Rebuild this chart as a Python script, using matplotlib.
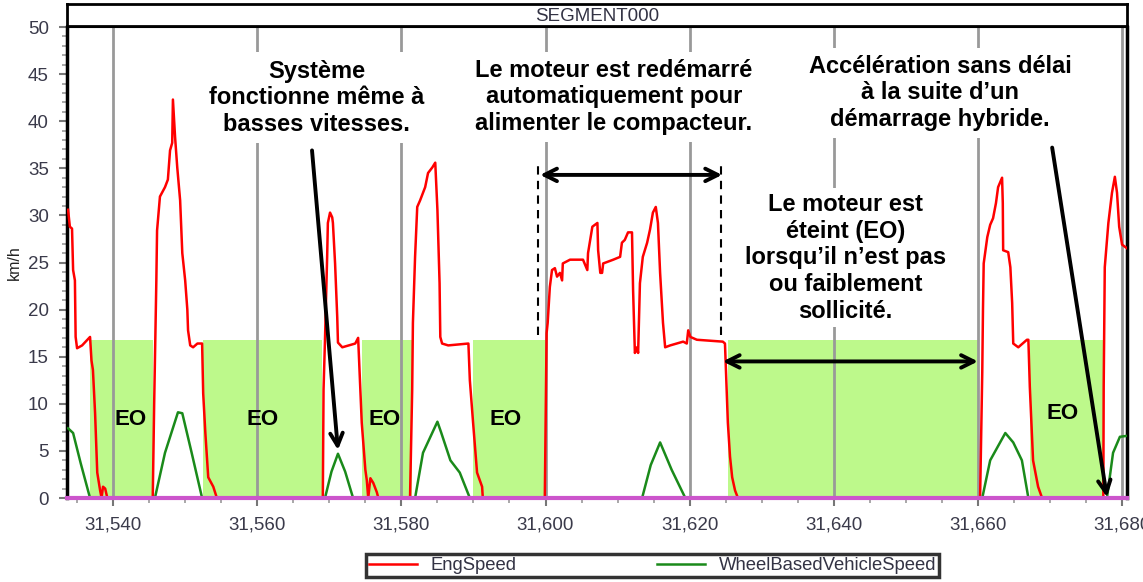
import matplotlib
matplotlib.use("Agg")
import matplotlib.pyplot as plt
from matplotlib.ticker import MultipleLocator, FuncFormatter
from matplotlib.lines import Line2D

plt.rcParams['font.family'] = ['Liberation Sans', 'DejaVu Sans']

# EngSpeed trace (time, km/h)
eng_time = [31533.75, 31534.0, 31534.3, 31534.45, 31534.7, 31534.8, 31535.0, 31535.7, 31536.8, 31537.0,
            31537.2, 31537.5, 31537.8, 31538.2, 31538.4, 31538.6, 31538.9, 31539.2,
            31545.5, 31545.7, 31546.0, 31546.1, 31546.5, 31547.2, 31547.6, 31547.9, 31548.2, 31548.3,
            31548.6, 31548.9, 31549.3, 31549.6, 31550.0, 31550.3, 31550.4, 31550.7, 31551.1, 31551.7,
            31552.35, 31552.5, 31552.8, 31553.2, 31553.9, 31554.4,
            31569.1, 31569.2, 31569.4, 31569.7, 31569.8, 31570.1, 31570.4, 31570.5, 31570.8, 31571.1,
            31571.2, 31571.8, 31573.6, 31574.0, 31574.3, 31574.5, 31575.0, 31575.2, 31575.4, 31575.7,
            31576.1, 31576.6, 31576.8,
            31581.2, 31581.5, 31581.6, 31581.9, 31582.2, 31582.6, 31583.0, 31583.3, 31583.7, 31584.3,
            31584.7, 31585.0, 31585.3, 31585.4, 31585.65, 31586.5, 31589.3, 31589.5, 31589.95, 31590.5,
            31591.2, 31591.3,
            31599.9, 31600.15, 31600.3, 31600.6, 31600.9, 31601.3, 31601.6, 31602.0, 31602.3, 31602.4,
            31603.4, 31605.2, 31605.8, 31605.9, 31606.5, 31607.2, 31607.3, 31607.6, 31607.85, 31608.0,
            31609.4, 31610.35, 31610.6, 31611.0, 31611.45, 31612.0, 31612.15, 31612.4, 31612.7, 31612.85,
            31613.1, 31613.5, 31614.1, 31614.5, 31614.9, 31615.3, 31615.6, 31615.9, 31616.3, 31616.6,
            31617.3, 31619.1, 31619.6, 31619.8, 31620.1, 31621.0, 31624.6, 31624.9, 31625.3, 31625.6,
            31625.9, 31626.3, 31626.7,
            31660.3, 31660.6, 31660.7, 31660.8, 31661.3, 31661.7, 31662.1, 31662.5, 31662.8, 31663.35,
            31663.45, 31663.5, 31664.2, 31664.5, 31664.75, 31664.9, 31665.6, 31666.8, 31667.0, 31667.2,
            31667.65, 31668.35, 31668.9,
            31677.4, 31677.45, 31677.6, 31678.1, 31678.6, 31679.0, 31679.3, 31679.6, 31680.0, 31680.7]
eng_speed = [30.6, 28.8, 28.6, 24.2, 23.1, 17.1, 15.9, 16.2, 17.1, 14.6,
             13.6, 9.0, 2.7, 0.8, 0.0, 1.2, 1.0, 0.0,
             0.0, 10.1, 23.1, 28.4, 32.0, 33.0, 33.8, 36.9, 37.7, 42.3,
             38.3, 35.1, 31.6, 26.0, 23.1, 20.0, 17.8, 16.2, 16.0, 16.4,
             16.4, 11.1, 6.9, 2.2, 1.2, 0.0,
             0.0, 11.5, 16.8, 25.6, 29.2, 30.3, 29.8, 29.2, 24.9, 19.2,
             16.5, 16.0, 16.4, 17.0, 11.5, 8.0, 3.0, 1.9, 0.0, 2.1,
             1.6, 0.6, 0.0,
             0.0, 11.5, 18.6, 25.6, 30.9, 31.6, 32.4, 33.0, 34.5, 35.1,
             35.6, 30.6, 22.8, 17.1, 16.4, 16.2, 16.4, 12.5, 8.0, 2.7,
             1.2, 0.0,
             0.0, 17.5, 18.6, 22.4, 24.2, 24.4, 23.5, 23.9, 23.1, 24.9,
             25.3, 25.3, 24.2, 26.0, 28.8, 29.2, 26.3, 23.9, 23.9, 24.9,
             25.3, 25.6, 27.1, 27.4, 28.2, 28.2, 22.1, 15.4, 16.0, 15.4,
             22.8, 25.6, 27.1, 28.5, 30.3, 30.9, 29.2, 23.9, 18.6, 16.0,
             16.2, 16.6, 16.4, 17.8, 17.1, 16.8, 16.6, 16.4, 8.0, 4.4,
             2.2, 0.8, 0.0,
             0.0, 13.3, 20.0, 24.9, 27.7, 29.0, 29.7, 31.3, 33.0, 34.0,
             31.3, 26.3, 26.1, 24.5, 20.7, 16.4, 16.0, 16.8, 16.8, 11.8,
             4.0, 1.2, 0.0,
             0.0, 11.8, 24.5, 29.2, 32.4, 34.1, 32.4, 28.8, 26.9, 26.5]

# WheelBasedVehicleSpeed trace
veh_time = [31533.75, 31534.45, 31535.5, 31536.8, 31545.8, 31547.2, 31549.0, 31549.6, 31550.9, 31552.35,
            31569.4, 31570.3, 31571.2, 31572.2, 31573.3, 31581.9, 31583.0, 31585.0, 31585.5, 31586.8,
            31588.1, 31589.5, 31613.4, 31614.6, 31615.9, 31617.5, 31619.4, 31660.6, 31661.7, 31663.8,
            31664.9, 31666.1, 31667.0, 31677.9, 31678.75, 31679.7, 31680.7]
veh_speed = [7.4, 6.9, 3.7, 0.0, 0.0, 4.8, 9.1, 9.0, 4.8, 0.0,
             0.0, 2.8, 4.7, 2.8, 0.0, 0.0, 4.8, 8.1, 7.0, 4.0,
             2.7, 0.0, 0.0, 3.5, 5.9, 3.0, 0.0, 0.0, 4.0, 6.9,
             5.9, 4.0, 0.0, 0.0, 4.8, 6.5, 6.6]

# engine-off windows
eo_start = [31536.8, 31552.5, 31574.6, 31590.0, 31625.3, 31667.2]
eo_end = [31545.5, 31569.0, 31581.5, 31600.0, 31660.0, 31677.4]
eo_level = 16.8
eo_label_x = [31542.4, 31560.8, 31577.7, 31594.4, 31671.8]
eo_label_y = [8.3, 8.3, 8.3, 8.3, 9.0]

x_min, x_max = 31533.6, 31680.7

fig = plt.figure(figsize=(11.43, 5.82), dpi=100)
ax = fig.add_axes([0.0586, 0.1443, 0.9275, 0.8093])

for s, e in zip(eo_start, eo_end):
    ax.fill_between([s, e], 0, eo_level, color='#bdf98b', lw=0, zorder=1)

for gx in range(31540, 31700, 20):
    ax.axvline(gx, color='#999999', lw=2, zorder=2)

ax.plot(eng_time, eng_speed, color='#ff0000', lw=1.8, zorder=3)
ax.plot(veh_time, veh_speed, color='#1a8a1a', lw=1.8, zorder=3)
ax.plot([x_min, x_max], [0, 0], color='#cc55cc', lw=3, zorder=4, clip_on=False)

for lx, ly in zip(eo_label_x, eo_label_y):
    ax.text(lx, ly, 'EO', fontsize=16, fontweight='bold', ha='center', va='center', zorder=5)

box = dict(boxstyle='square,pad=0.3', fc='white', ec='none')
txt_kw = dict(fontsize=17, fontweight='bold', ha='center', va='center', linespacing=1.2,
              bbox=box, zorder=5)
ax.text(31568.2, 42.5, "Système\nfonctionne même à\nbasses vitesses.", **txt_kw)
ax.text(31609.5, 42.6, "Le moteur est redémarré\nautomatiquement pour\nalimenter le compacteur.", **txt_kw)
ax.text(31654.75, 43.0, "Accélération sans délai\nà la suite d’un\ndémarrage hybride.", **txt_kw)
ax.text(31641.6, 25.5, "Le moteur est\néteint (EO)\nlorsqu’il n’est pas\nou faiblement\nsollicité.",
        fontsize=17, fontweight='bold', ha='center', va='center', linespacing=1.2,
        bbox=dict(boxstyle='square,pad=0.2', fc='white', ec='none'), zorder=5)

arrow_kw = dict(arrowstyle='->,head_length=0.9,head_width=0.45', color='black', lw=2.8,
                shrinkA=0, shrinkB=0)
ax.annotate('', xy=(31571.2, 5.1), xytext=(31567.6, 36.9), arrowprops=arrow_kw, zorder=6)
ax.annotate('', xy=(31677.9, 0.1), xytext=(31670.3, 37.2), arrowprops=arrow_kw, zorder=6)
dbl_kw = dict(arrowstyle='<->,head_length=0.9,head_width=0.45', color='black', lw=2.8,
              shrinkA=0, shrinkB=0)
ax.annotate('', xy=(31599.25, 34.3), xytext=(31624.5, 34.3), arrowprops=dbl_kw, zorder=6)
ax.annotate('', xy=(31624.6, 14.5), xytext=(31660.0, 14.5), arrowprops=dbl_kw, zorder=6)
ax.vlines([31599.0, 31624.4], 17.3, 35.9, colors='black', linestyles=(0, (4, 3)), lw=1.5, zorder=6)

ax.set_xlim(x_min, x_max)
ax.set_ylim(0, 50)
ax.xaxis.set_major_locator(MultipleLocator(20))
ax.xaxis.set_minor_locator(MultipleLocator(5))
ax.yaxis.set_major_locator(MultipleLocator(5))
ax.yaxis.set_minor_locator(MultipleLocator(1))
ax.xaxis.set_major_formatter(FuncFormatter(lambda v, p: f"{int(round(v)):,}"))
ax.tick_params(axis='both', which='major', length=6, width=1.5, color='#777777',
               labelsize=13.5, labelcolor='#3a3a4a', pad=7)
ax.tick_params(axis='both', which='minor', length=3.5, width=1.2, color='#999999')
ax.set_ylabel('km/h', fontsize=11.5, color='#222222', labelpad=4)

ax.spines['left'].set_linewidth(2.5)
ax.spines['right'].set_linewidth(2.5)
ax.spines['top'].set_linewidth(1.5)
ax.spines['bottom'].set_visible(False)

# title bar
tax = fig.add_axes([0.0586, 0.9553, 0.9275, 0.0378])
tax.set_xticks([])
tax.set_yticks([])
for sp in tax.spines.values():
    sp.set_linewidth(2)
tax.text(0.5, 0.45, 'SEGMENT000', ha='center', va='center', fontsize=13.5, color='#333344',
         transform=tax.transAxes)

handles = [Line2D([], [], color='#ff0000', lw=1.8), Line2D([], [], color='#1a8a1a', lw=1.8)]
leg = fig.legend(handles, ['EngSpeed', 'WheelBasedVehicleSpeed'], loc='center',
                 bbox_to_anchor=(0.571, 0.028), ncol=2, fontsize=13.3, columnspacing=7.6,
                 handlelength=2.6, handletextpad=0.75, frameon=True, fancybox=False,
                 edgecolor='black', borderpad=0.15, labelcolor='#333344')
leg.get_frame().set_linewidth(2.5)

fig.savefig('out.png', dpi=100)
